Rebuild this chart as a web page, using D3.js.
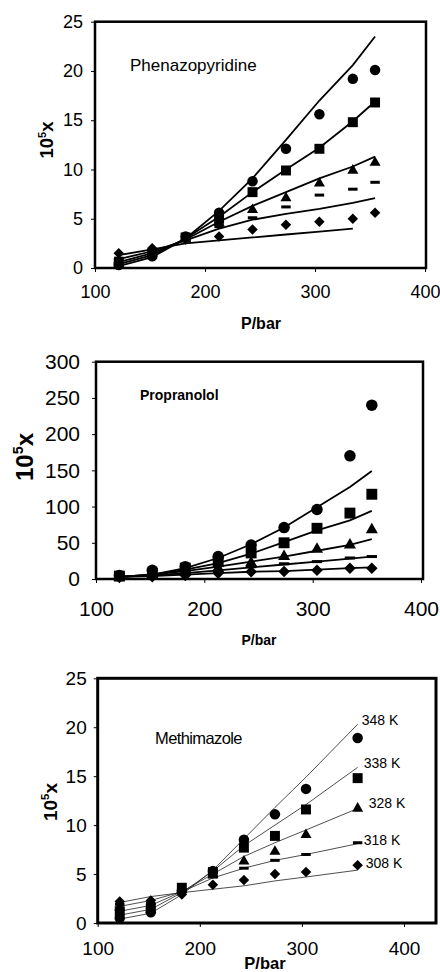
<!DOCTYPE html>
<html>
<head>
<meta charset="utf-8">
<script src="https://cdn.jsdelivr.net/npm/d3@7"></script>
<style>
  body { margin: 0; background: #fff; }
  svg { display: block; font-family: "Liberation Sans", Arial, sans-serif; }
</style>
</head>
<body>
<svg width="440" height="972"></svg>
<script>
// series order: 308, 318, 328, 338, 348 K
const temps = ["308 K", "318 K", "328 K", "338 K", "348 K"];
const shapes = ["diamond", "dash", "triangle", "square", "circle"];
const xTicks = [100, 200, 300, 400];

const pressAll = [121.6, 152, 182.4, 212.8, 243.2, 273.6, 304, 334.4, 354.6];
const pressMeth = [121.6, 152, 182.4, 212.8, 243.2, 273.6, 304, 354.6];

// Phenazopyridine
const phenTicks = [0, 5, 10, 15, 20, 25];
const phenExp = [
  [1.5, 2.0, 2.9, 3.2, 3.9, 4.4, 4.7, 5.0, 5.6],
  [1.0, 1.8, 3.0, 4.2, 5.1, 6.2, 7.4, 8.0, 8.7],
  [0.8, 1.6, 3.0, 4.6, 5.9, 7.1, 8.6, 9.9, 10.7],
  [0.5, 1.4, 3.1, 5.0, 7.7, 9.9, 12.1, 14.8, 16.8],
  [0.3, 1.2, 3.2, 5.6, 8.8, 12.1, 15.6, 19.2, 20.1]
];
const phenFit = [
  [1.3, 1.9, 2.5, 2.8, 3.1, 3.4, 3.7, 4.0],
  [0.9, 1.7, 2.8, 4.0, 4.9, 5.5, 6.0, 6.6, 7.1],
  [0.6, 1.5, 2.9, 4.7, 6.3, 7.7, 9.1, 10.3, 11.3],
  [0.4, 1.3, 3.0, 5.2, 7.7, 10.0, 12.2, 14.9, 16.9],
  [0.2, 1.1, 3.0, 5.8, 9.1, 13.0, 17.0, 20.6, 23.5]
];

// Propranolol
const propTicks = [0, 50, 100, 150, 200, 250, 300];
const propExp = [
  [2, 3, 5, 8, 10, 10.5, 12, 15, 15],
  [2, 4, 7, 11, 17, 21, 24, 29, 31],
  [3, 6, 10, 15, 22, 31, 41, 47, 68],
  [4, 8, 15, 24, 36, 50, 70, 91, 117],
  [5, 12, 17, 31, 47, 71, 96, 170, 240]
];
const propFit = [
  [3, 4, 6, 8, 10, 11, 13, 15, 16],
  [3, 5, 8, 12, 16, 20, 24, 28, 31],
  [3, 6, 11, 17, 24, 31, 39, 47, 55],
  [3, 6, 13, 22, 35, 51, 67, 81, 94],
  [3, 6, 15, 29, 48, 71, 99, 127, 149]
];

// Methimazole
const methTicks = [0, 5, 10, 15, 20, 25];
const methExp = [
  [2.2, 2.3, 2.9, 3.9, 4.4, 5.0, 5.2, 5.9],
  [1.9, 2.0, 3.2, 4.7, 5.6, 6.4, 7.0, 8.2],
  [1.6, 1.8, 3.4, 4.9, 6.3, 7.3, 9.0, 11.7],
  [1.2, 1.5, 3.6, 5.2, 7.7, 8.9, 11.6, 14.8],
  [0.5, 1.1, 3.3, 5.3, 8.5, 11.1, 13.7, 18.9]
];
const methFit = [
  [2.1, 2.7, 3.1, 3.45, 3.8, 4.3, 4.7, 5.4],
  [1.7, 2.3, 3.2, 4.6, 5.6, 6.4, 7.0, 8.1],
  [1.2, 1.8, 3.2, 5.0, 6.8, 8.2, 9.5, 11.7],
  [0.8, 1.4, 3.1, 5.3, 7.9, 10.0, 12.1, 15.9],
  [0.4, 1.0, 2.9, 5.4, 8.6, 11.8, 14.9, 20.3]
];

const svg = d3.select("svg");

function marker(sel, shape, s) {
  if (shape === "dash") {
    sel.append("rect").attr("x", -s * 0.45).attr("y", -1.5).attr("width", s * 0.9).attr("height", 3);
  } else if (shape === "diamond") {
    sel.append("path").attr("d", d3.symbol(d3.symbolSquare, s * s * 0.5)()).attr("transform", "rotate(45)");
  } else if (shape === "square") {
    sel.append("path").attr("d", d3.symbol(d3.symbolSquare, s * s * 0.9)());
  } else if (shape === "triangle") {
    sel.append("path").attr("d", d3.symbol(d3.symbolTriangle, s * s * 0.48)());
  } else {
    sel.append("path").attr("d", d3.symbol(d3.symbolCircle, Math.PI * s * s / 4)());
  }
}

function drawPanel(p) {
  const x = d3.scaleLinear().domain([100, 400]).range([p.left, p.right]);
  const y = d3.scaleLinear().domain([0, p.yTicks[p.yTicks.length - 1]]).range([p.bottom, p.top]);
  const g = svg.append("g");

  const xa = g.append("g")
    .attr("transform", `translate(0,${p.bottom})`)
    .call(d3.axisBottom(x).tickValues(xTicks).tickSize(4).tickPadding(p.xPad));
  const ya = g.append("g")
    .attr("transform", `translate(${p.left},0)`)
    .call(d3.axisLeft(y).tickValues(p.yTicks).tickSize(4).tickPadding(p.yPad));
  [xa, ya].forEach(a => {
    a.select(".domain").remove();
    a.attr("font-family", null).attr("font-size", p.tickFont);
    a.selectAll("text").attr("fill", "#000");
  });

  g.append("rect")
    .attr("x", p.left).attr("y", p.top)
    .attr("width", p.frameRight - p.left).attr("height", p.bottom - p.top)
    .attr("fill", "none").attr("stroke", "#000").attr("stroke-width", p.frameW);

  const line = d3.line().x((d, i) => x(p.press[i])).y(d => y(d));
  g.selectAll(".fit").data(p.fit).join("path")
    .attr("class", "fit")
    .attr("d", d => line(d))
    .attr("fill", "none")
    .attr("stroke", p.lineColor)
    .attr("stroke-width", p.lineW);

  p.exp.forEach((series, k) => {
    series.forEach((v, i) => {
      const m = g.append("g")
        .attr("transform", `translate(${x(p.press[i])},${y(v)})`)
        .attr("fill", "#000");
      marker(m, shapes[k], p.markSize);
    });
  });

  g.append("text")
    .attr("x", p.title.x).attr("y", p.title.y)
    .attr("font-size", p.title.size)
    .attr("font-weight", p.title.weight)
    .attr("letter-spacing", p.title.ls || 0)
    .text(p.title.text);

  const yl = g.append("text")
    .attr("transform", `translate(${p.ylab.x},${p.ylab.y}) rotate(-90)`)
    .attr("text-anchor", "middle")
    .attr("font-size", p.ylab.size)
    .attr("font-weight", "bold");
  yl.append("tspan").text("10");
  yl.append("tspan").attr("dy", -p.ylab.size * 0.4).attr("font-size", p.ylab.size * 0.6).text("5");
  yl.append("tspan").attr("dy", p.ylab.size * 0.4).text("x");

  g.append("text")
    .attr("x", p.xlab.x).attr("y", p.xlab.y)
    .attr("text-anchor", "middle")
    .attr("font-size", p.xlab.size)
    .attr("font-weight", "bold")
    .text("P/bar");

  return { x, y, g };
}

drawPanel({
  left: 95, right: 425, frameRight: 426, top: 21.7, bottom: 268,
  yTicks: phenTicks, press: pressAll, exp: phenExp, fit: phenFit,
  tickFont: 18, xPad: 13, yPad: 8, frameW: 2.5, lineW: 1.8, lineColor: "#000", markSize: 10.5,
  title: { text: "Phenazopyridine", x: 130, y: 71, size: 17, weight: "normal" },
  ylab: { x: 53, y: 140, size: 18.5 },
  xlab: { x: 261, y: 329, size: 16 }
});

drawPanel({
  left: 96, right: 421, frameRight: 423, top: 361.7, bottom: 579,
  yTicks: propTicks, press: pressAll, exp: propExp, fit: propFit,
  tickFont: 21, xPad: 18, yPad: 12, frameW: 2.5, lineW: 1.8, lineColor: "#000", markSize: 11.5,
  title: { text: "Propranolol", x: 140, y: 400, size: 14, weight: "bold" },
  ylab: { x: 33, y: 457, size: 24 },
  xlab: { x: 259, y: 645, size: 14 }
});

const meth = drawPanel({
  left: 97.7, right: 404, frameRight: 436, top: 678.3, bottom: 923,
  yTicks: methTicks, press: pressMeth, exp: methExp, fit: methFit,
  tickFont: 19, xPad: 15, yPad: 7, frameW: 3, lineW: 0.8, lineColor: "#222", markSize: 10.5,
  title: { text: "Methimazole", x: 155, y: 744, size: 16.5, weight: "normal", ls: -0.6 },
  ylab: { x: 57, y: 802, size: 19 },
  xlab: { x: 265, y: 969, size: 16.5 }
});

// temperature labels at the end of each Methimazole line
const labelOffsets = [[8, -2], [6, 1], [11, 0], [6, 1], [4, 1]];
methFit.forEach((s, k) => {
  const last = s.length - 1;
  meth.g.append("text")
    .attr("x", meth.x(pressMeth[last]) + labelOffsets[k][0])
    .attr("y", meth.y(s[last]) + labelOffsets[k][1])
    .attr("font-size", 14)
    .text(temps[k]);
});
</script>
</body>
</html>
